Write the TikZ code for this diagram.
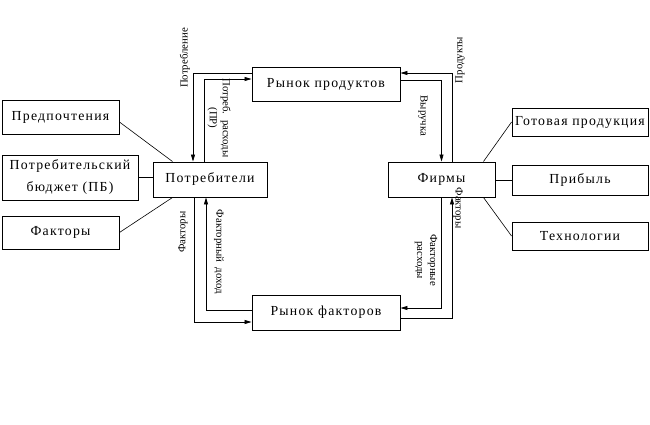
\documentclass[tikz,border=0pt]{standalone}
\usepackage{fontspec}
\setmainfont{Liberation Serif}
\newfontfamily\boxfont[LetterSpace=9]{Liberation Serif}
\usetikzlibrary{arrows.meta}

\begin{document}
\begin{tikzpicture}
  [x=1pt, y=-1pt,
   box/.style={draw=black, line width=0.9pt, inner sep=0pt, align=center,
               font=\boxfont\fontsize{13.8}{22}\selectfont},
   link/.style={draw=black, line width=0.6pt},
   flow/.style={draw=black, line width=0.7pt, -{Triangle[length=7pt,width=4pt]}},
   note/.style={font=\fontsize{10.8}{13}\selectfont, align=center, inner sep=0pt}]

  \useasboundingbox (0,0) rectangle (650,424);

  % Рынки и агенты
  \node[box, minimum width=148pt, minimum height=34pt] (rp)  at (326,84)    {Рынок продуктов};
  \node[box, minimum width=114pt, minimum height=35pt] (pot) at (210,179.5) {Потребители};
  \node[box, minimum width=107pt, minimum height=35pt] (fir) at (441.5,179.5) {Фирмы};
  \node[box, minimum width=148pt, minimum height=35pt] (rf)  at (326,312.5) {Рынок факторов};

  % Левые блоки
  \node[box, minimum width=117pt, minimum height=34pt] (pref) at (60.5,117)  {Предпочтения};
  \node[box, minimum width=136pt, minimum height=45pt] (pb)   at (70,177.5)  {Потребительский\\бюджет (ПБ)};
  \node[box, minimum width=117pt, minimum height=33pt] (fak)  at (60.5,232.5) {Факторы};

  % Правые блоки
  \node[box, minimum width=136pt, minimum height=28pt] (gp)   at (580,122) {Готовая продукция};
  \node[box, minimum width=136pt, minimum height=30pt] (prib) at (580,180) {Прибыль};
  \node[box, minimum width=136pt, minimum height=28pt] (tech) at (580,236) {Технологии};

  % Связи с блоками
  \draw[link] ([yshift=-5pt]pref.east) -- ([xshift=20pt]pot.north west);
  \draw[link] (pb.east) -- (pb.east -| pot.west);
  \draw[link] (fak.east) -- ([xshift=20pt]pot.south west);
  \draw[link] (gp.west) -- ([xshift=-12pt]fir.north east);
  \draw[link] (prib.west) -- (prib.west -| fir.east);
  \draw[link] (tech.west) -- ([xshift=-12pt]fir.south east);

  % Потоки
  \draw[flow] ([yshift=11pt]rp.west) -| ([xshift=-17pt]pot.north);
  \draw[flow] ([xshift=-6pt]pot.north) |- ([yshift=5pt]rp.west);
  \draw[flow] ([xshift=10.5pt]fir.north) |- ([yshift=11pt]rp.east);
  \draw[flow] ([yshift=4pt]rp.east) -| (fir.north);
  \draw[flow] ([xshift=-16pt]pot.south) |- ([yshift=-9.5pt]rf.west);
  \draw[flow] ([yshift=2.5pt]rf.west) -| ([xshift=-4pt]pot.south);
  \draw[flow] (fir.south) |- ([yshift=4.5pt]rf.east);
  \draw[flow] ([yshift=-5.5pt]rf.east) -| ([xshift=10.5pt]fir.south);

  % Подписи потоков
  \node[note, rotate=90]  (n1) at (185,58)  {Потребление};
  \node[note, rotate=-90] (n2) at (219,118) {Потреб.\ \ расходы\\(ПР)};
  \node[note, rotate=90]  (n3) at (460,60)  {Продукты};
  \node[note, rotate=-90] (n4) at (423,116) {Выручка};
  \node[note, rotate=90]  (n5) at (183,232) {Факторы};
  \node[note, rotate=-90] (n6) at (219,252) {Факторный\ \ доход};
  \node[note, rotate=-90] (n7) at (426,260) {Факторные\\расходы};
  \node[note, rotate=-90] (n8) at (458,208) {Факторы};
\end{tikzpicture}
\end{document}
